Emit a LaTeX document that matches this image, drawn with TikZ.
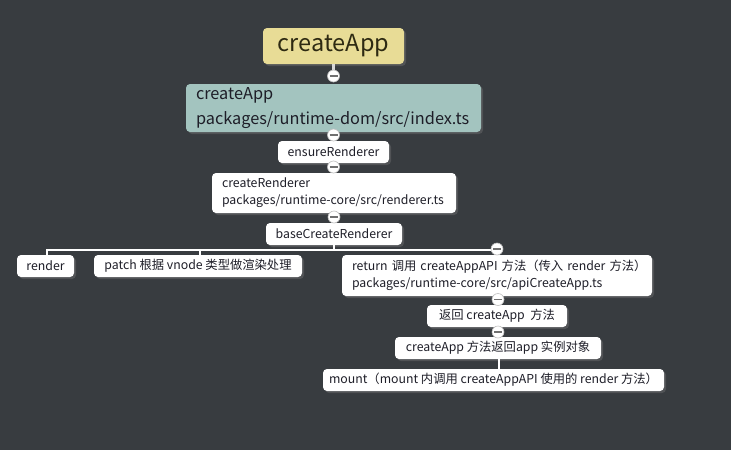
\documentclass[tikz,border=0pt]{standalone}
\usepackage{fontspec}
\setmainfont{Noto Sans CJK SC}
\usetikzlibrary{shadows}
\definecolor{bg}{HTML}{383C40}
\definecolor{rootfill}{HTML}{E8DC96}
\definecolor{tealfill}{HTML}{A3C4BF}
\definecolor{txt}{HTML}{1E1E28}
\definecolor{roottxt}{HTML}{2E2A12}
\definecolor{minuscol}{HTML}{707070}
\definecolor{stemcol}{HTML}{D8D8D8}
\begin{document}
\begin{tikzpicture}[x=1pt,y=-1pt,
  box/.style={rounded corners=4pt, inner xsep=10pt, inner ysep=0pt, text=txt,
    font=\fontsize{12.3}{17}\selectfont,
    drop shadow={shadow xshift=2pt,shadow yshift=-2pt,opacity=0.35}},
  wbox/.style={box, fill=white, inner xsep=6pt, minimum height=22pt, align=center},
  wbox2/.style={box, fill=white, align=left},
  toggle/.style={circle, fill=white, draw=black!25, line width=0.6pt, minimum size=12pt, inner sep=0pt,
    path picture={\draw[minuscol, line width=1.3pt] ([xshift=-4pt]path picture bounding box.center) -- ([xshift=4pt]path picture bounding box.center);}},
  link/.style={white, line width=1.6pt},
]
\fill[bg] (0,0) rectangle (731,450);
\useasboundingbox (0,0) rectangle (731,450);

% nodes
\node[box, fill=rootfill, text=roottxt, font=\fontsize{23.5}{27}\selectfont, minimum width=141pt, minimum height=36pt] (root) at (333.5,46) {createApp};
\node[box, fill=tealfill, font=\fontsize{16.3}{25}\selectfont, text width=275pt, minimum height=48pt, align=left] (dom) at (333.5,108) {\mbox{createApp}\\\mbox{packages/runtime-dom/src/index.ts}};
\node[wbox, minimum width=111pt] (ensure) at (333.5,152) {ensureRenderer};
\node[wbox2, text width=224pt, minimum height=40pt] (crend) at (334,193) {\mbox{createRenderer}\\\mbox{packages/runtime-core/src/renderer.ts}};
\node[wbox, minimum width=136pt] (base) at (334,234) {baseCreateRenderer};
\node[wbox, minimum width=57pt] (render) at (45.5,266) {render};
\node[wbox, minimum width=208pt] (patch) at (198,266) {patch 根据 vnode 类型做渲染处理};
\node[wbox2, text width=290pt, minimum height=41pt] (ret) at (497,275.5) {\mbox{return 调用 createAppAPI 方法（传入 render 方法）}\\\mbox{packages/runtime-core/src/apiCreateApp.ts}};
\node[wbox, minimum width=140pt] (fanhui) at (497,316) {返回 createApp~~方法};
\node[wbox, minimum width=206pt] (appobj) at (498,348) {createApp 方法返回app 实例对象};
\node[wbox, minimum width=341pt] (mount) at (493.5,380) {mount（mount 内调用 createAppAPI 使用的 render 方法）};

\coordinate (bus) at (334,250);

% connectors
\draw[stemcol, line width=3pt] (root.south) -- (333.5,76);
\draw[link] (dom.south) -- (ensure.north);
\draw[link] (ensure.south) -- (crend.north -| ensure.south);
\draw[link] (crend.south) -- (base.north);
\draw[link] (base.south) -- (bus);
\draw[link] (render.north -| 47,0) -- (47,250) -- (497,250);
\draw[link] (patch.north -| 200,0) -- (200,250);
\draw[link] (ret.south -| 498,0) -- (fanhui.north -| 498,0);
\draw[link] (fanhui.south -| 498,0) -- (appobj.north -| 498,0);
\draw[link] (appobj.south -| 499,0) -- (mount.north -| 499,0);

% toggles
\node[toggle] (t1) at (333.5,76) {};
\node[toggle] (t2) at (333.5,135) {};
\node[toggle] (t3) at (333.5,167) {};
\node[toggle] (t4) at (334,217) {};
\node[toggle] (t5) at (497,249) {};
\node[toggle] (t6) at (498,299.5) {};
\node[toggle] (t7) at (498,332) {};
\end{tikzpicture}
\end{document}
